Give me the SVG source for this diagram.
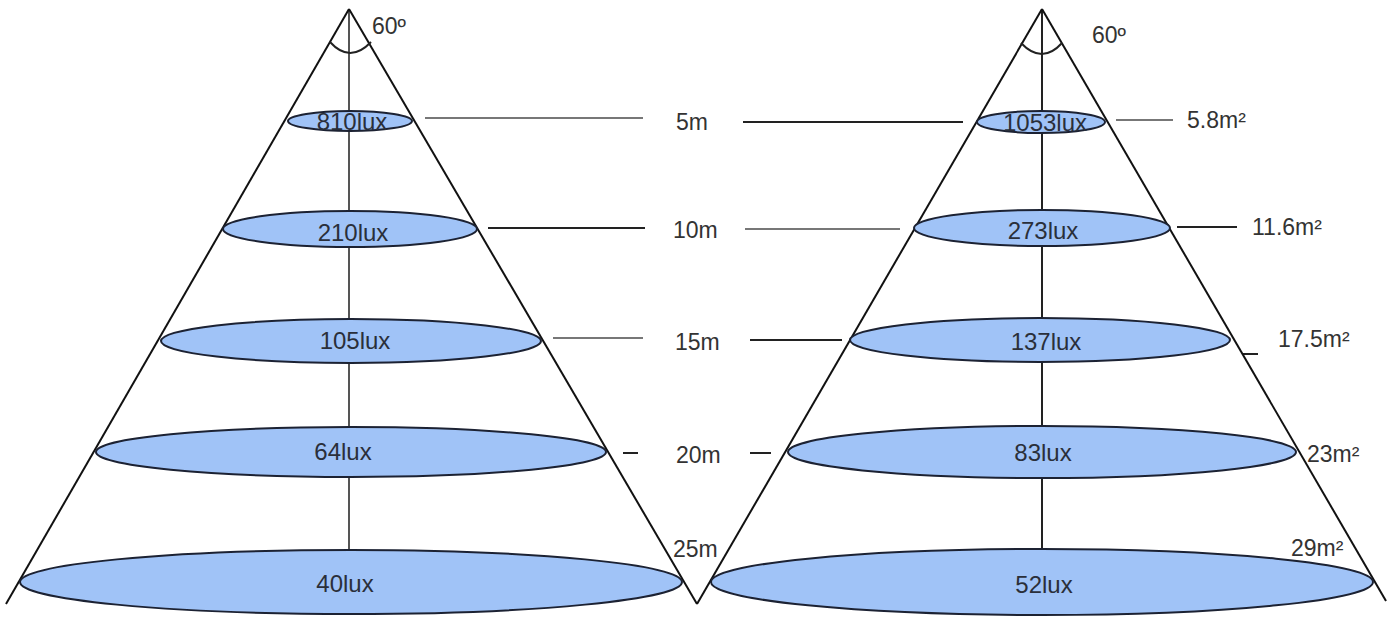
<svg xmlns="http://www.w3.org/2000/svg" width="1395" height="617" viewBox="0 0 1395 617">
<style>
.edge{stroke:#111;stroke-width:2;fill:none}
.axisL{stroke:#555;stroke-width:2}
.axisR{stroke:#222;stroke-width:2}
.arc{stroke:#222;stroke-width:2;fill:none}
.spot{fill:#a0c3f7;stroke:#1c2233;stroke-width:2}
.lux{font-family:"Liberation Sans",Arial,sans-serif;font-size:24px;fill:#2a2f3a;text-anchor:middle}
.lbl{font-family:"Liberation Sans",Arial,sans-serif;font-size:23px;fill:#333}
.g{stroke:#777;stroke-width:2}
.d{stroke:#222;stroke-width:2}
</style>
<rect width="1395" height="617" fill="#fff"/>
<g id="connectors">
  <line class="g" x1="425" y1="118" x2="643" y2="118"/>
  <line class="d" x1="743" y1="122" x2="963" y2="122"/>
  <line class="d" x1="488" y1="228" x2="645" y2="228"/>
  <line class="g" x1="745" y1="229" x2="900" y2="229"/>
  <line class="g" x1="553" y1="338" x2="643" y2="338"/>
  <line class="d" x1="750" y1="340" x2="842" y2="340"/>
  <line class="d" x1="623" y1="453" x2="638" y2="453"/>
  <line class="d" x1="750" y1="453" x2="771" y2="453"/>
  <line class="g" x1="1116" y1="120" x2="1173" y2="120"/>
  <line class="d" x1="1177" y1="227" x2="1237" y2="227"/>
  <line class="d" x1="1242" y1="354" x2="1258" y2="354"/>
</g>
<g id="cone-left">
  <line class="axisL" x1="349" y1="9" x2="349" y2="570"/>
  <line class="edge" x1="349" y1="9" x2="6" y2="604"/>
  <line class="edge" x1="349" y1="9" x2="697" y2="604"/>
  <path class="arc" d="M330,42 Q350,64 371,42"/>
  <text class="lbl" x="372" y="34">60º</text>
</g>
<g id="cone-right">
  <line class="axisR" x1="1042" y1="9" x2="1042" y2="570"/>
  <line class="edge" x1="1042" y1="9" x2="697" y2="604"/>
  <line class="edge" x1="1042" y1="9" x2="1386" y2="601"/>
  <path class="arc" d="M1021,43 Q1042,65 1062,43"/>
  <text class="lbl" x="1092" y="43">60º</text>
</g>
<g id="spot-810"><ellipse class="spot" cx="350" cy="121" rx="62" ry="10"/><text class="lux" x="352" y="130">810lux</text></g>
<g id="spot-210"><ellipse class="spot" cx="350" cy="229" rx="127" ry="18"/><text class="lux" x="353" y="241">210lux</text></g>
<g id="spot-105"><ellipse class="spot" cx="351" cy="341" rx="190" ry="22"/><text class="lux" x="355" y="349">105lux</text></g>
<g id="spot-64"><ellipse class="spot" cx="351" cy="452" rx="255" ry="25"/><text class="lux" x="343" y="460">64lux</text></g>
<g id="spot-40"><ellipse class="spot" cx="351" cy="582" rx="331" ry="32"/><text class="lux" x="345" y="592">40lux</text></g>
<g id="spot-1053"><ellipse class="spot" cx="1041" cy="122" rx="64" ry="11"/><text class="lux" x="1045" y="131">1053lux</text></g>
<g id="spot-273"><ellipse class="spot" cx="1042" cy="228" rx="128" ry="18"/><text class="lux" x="1043" y="239">273lux</text></g>
<g id="spot-137"><ellipse class="spot" cx="1040" cy="340" rx="190" ry="22"/><text class="lux" x="1046" y="350">137lux</text></g>
<g id="spot-83"><ellipse class="spot" cx="1042" cy="452" rx="254" ry="26"/><text class="lux" x="1043" y="461">83lux</text></g>
<g id="spot-52"><ellipse class="spot" cx="1042" cy="582" rx="331" ry="33"/><text class="lux" x="1044" y="593">52lux</text></g>
<g id="labels-height">
  <text class="lbl" x="676" y="130">5m</text>
  <text class="lbl" x="673" y="238">10m</text>
  <text class="lbl" x="675" y="350">15m</text>
  <text class="lbl" x="676" y="463">20m</text>
  <text class="lbl" x="673" y="557">25m</text>
</g>
<g id="labels-area">
  <text class="lbl" x="1187" y="128">5.8m²</text>
  <text class="lbl" x="1252" y="235">11.6m²</text>
  <text class="lbl" x="1278" y="347">17.5m²</text>
  <text class="lbl" x="1307" y="462">23m²</text>
  <text class="lbl" x="1291" y="556">29m²</text>
</g>
</svg>
